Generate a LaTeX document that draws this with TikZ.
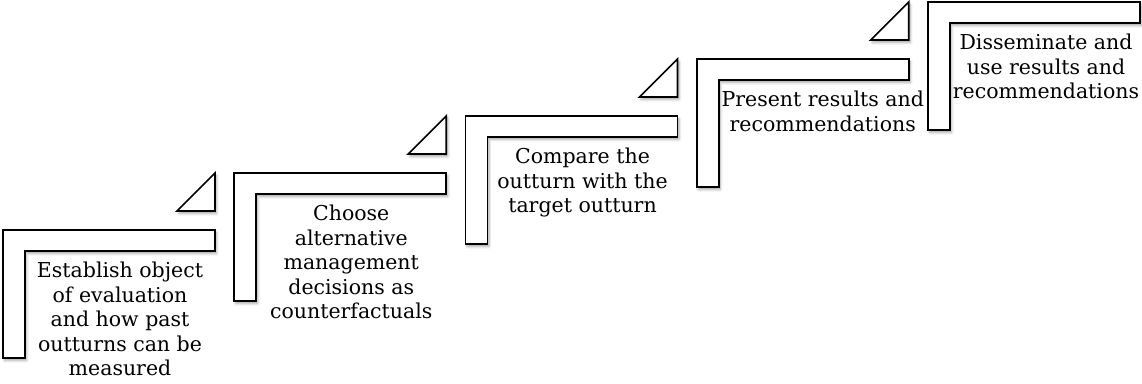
\documentclass[tikz,border=0pt]{standalone}
\usepackage{fontspec}
\setmainfont{DejaVu Serif}
\usetikzlibrary{shadows.blur}
\begin{document}
\begin{tikzpicture}[x=1pt,y=1pt,
  stepshape/.style={draw=black, line width=1.7pt, fill=white, line join=miter,
    blur shadow={shadow xshift=1.5pt, shadow yshift=-2.5pt,
                 shadow blur radius=2.5pt, shadow opacity=35}},
  steplabel/.style={anchor=north, align=center, inner sep=0pt,
    font=\fontsize{20.5}{24.6}\selectfont}]
\useasboundingbox (0,0) rectangle (1142,383);
% five L-shaped stairs rising to the right, each with its label
\foreach \i/\off/\txt in {
  0/117/{Establish object\\of evaluation\\and how past\\outturns can be\\measured},
  1/117/{Choose\\alternative\\management\\decisions as\\counterfactuals},
  2/117/{Compare the\\outturn with the\\target outturn},
  3/126/{Present results and\\recommendations},
  4/118/{Disseminate and\\use results and\\recommendations}} {
  \pgfmathsetmacro{\l}{3+231.25*\i}
  \pgfmathsetmacro{\t}{153+57*\i}
  \draw[stepshape] (\l,\t) -- ++(212,0) -- ++(0,-21) -- ++(-190,0)
    -- ++(0,-107) -- ++(-22,0) -- cycle;
  \node[steplabel] (label\i) at (\l+\off,\t-30) {\strut\txt};
}
% small wedges leading up to the next stair
\foreach \i in {0,...,3} {
  \pgfmathsetmacro{\r}{215+231.25*\i}
  \pgfmathsetmacro{\t}{153+57*(\i+1)}
  \draw[stepshape] (\r,\t) -- (\r,\t-38) -- (\r-38,\t-38) -- cycle;
}
\end{tikzpicture}
\end{document}
